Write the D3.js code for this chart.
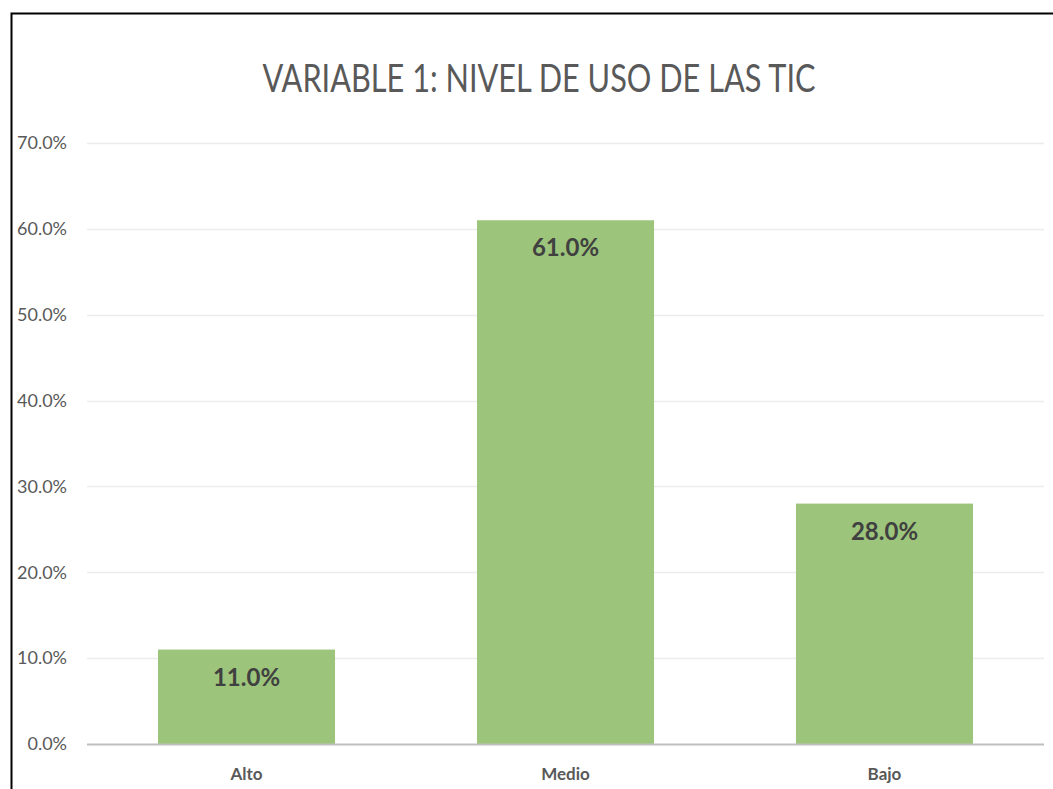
<!DOCTYPE html>
<html>
<head>
<meta charset="utf-8">
<script src="https://cdn.jsdelivr.net/npm/d3@7"></script>
<style>
  body { margin: 0; background: #fff; }
  text { font-family: Lato, "Open Sans", sans-serif; }
</style>
</head>
<body>
<div id="chart"></div>
<script>
  // data
  var categories = ["Alto", "Medio", "Bajo"];
  var values = [0.11, 0.61, 0.28];
  var tickValues = [0, 0.1, 0.2, 0.3, 0.4, 0.5, 0.6, 0.7];
  var title = "VARIABLE 1: NIVEL DE USO DE LAS TIC";

  var W = 1053, H = 789;
  var margin = {top: 143, right: 9, bottom: 45, left: 87},
  width = W - margin.left - margin.right,
  height = H - margin.top - margin.bottom;

  var svg = d3.select("#chart")
    .append("svg")
    .attr("width", W)
    .attr("height", H);

  // frame
  svg.append("path")
    .attr("d", "M11.5," + H + "V13.5H" + W)
    .attr("fill", "none")
    .attr("stroke", "#000")
    .attr("stroke-width", 2);

  // title
  svg.append("text")
    .attr("x", 539)
    .attr("y", 92)
    .attr("text-anchor", "middle")
    .attr("textLength", 553)
    .attr("lengthAdjust", "spacingAndGlyphs")
    .style("font-size", "38px")
    .style("fill", "#595959")
    .text(title);

  var g = svg.append("g")
    .attr("transform", "translate(" + margin.left + "," + margin.top + ")");

  var x = d3.scaleBand()
    .domain(categories)
    .range([0, width])
    .paddingInner(0.445)
    .paddingOuter(0.2225);

  var y = d3.scaleLinear()
    .domain([0, 0.7])
    .range([height, 0]);

  // gridlines
  g.append("g")
    .selectAll("line")
    .data(tickValues.slice(1))
    .enter().append("line")
    .attr("x1", 0)
    .attr("x2", width)
    .attr("y1", function(d) { return Math.round(y(d)) + 0.5; })
    .attr("y2", function(d) { return Math.round(y(d)) + 0.5; })
    .attr("stroke", "#ececec")
    .attr("stroke-width", 1.5);

  // y tick labels
  g.append("g")
    .selectAll("text")
    .data(tickValues)
    .enter().append("text")
    .attr("x", -20)
    .attr("y", function(d) { return y(d); })
    .attr("dy", "0.35em")
    .attr("text-anchor", "end")
    .style("font-size", "18px")
    .style("fill", "#595959")
    .text(function(d) { return d3.format(".1%")(d); });

  // bars
  g.selectAll(".bar")
    .data(values)
    .enter().append("rect")
    .attr("class", "bar")
    .attr("x", function(d, i) { return x(categories[i]); })
    .attr("width", x.bandwidth())
    .attr("y", function(d) { return y(d); })
    .attr("height", function(d) { return height - y(d); })
    .attr("fill", "#9cc47b");

  // data labels
  g.selectAll(".lbl")
    .data(values)
    .enter().append("text")
    .attr("class", "lbl")
    .attr("x", function(d, i) { return x(categories[i]) + x.bandwidth() / 2; })
    .attr("y", function(d) { return y(d) + 36; })
    .attr("text-anchor", "middle")
    .style("font-size", "24px")
    .style("font-weight", "bold")
    .style("fill", "#404040")
    .text(function(d) { return d3.format(".1%")(d); });

  // baseline
  g.append("line")
    .attr("x1", 0)
    .attr("x2", width)
    .attr("y1", height + 0.5)
    .attr("y2", height + 0.5)
    .attr("stroke", "#bfbfbf")
    .attr("stroke-width", 2);

  // category labels
  g.selectAll(".cat")
    .data(categories)
    .enter().append("text")
    .attr("class", "cat")
    .attr("x", function(d) { return x(d) + x.bandwidth() / 2; })
    .attr("y", height + 36)
    .attr("text-anchor", "middle")
    .style("font-size", "17px")
    .style("font-weight", "bold")
    .style("fill", "#595959")
    .text(function(d) { return d; });
</script>
</body>
</html>
